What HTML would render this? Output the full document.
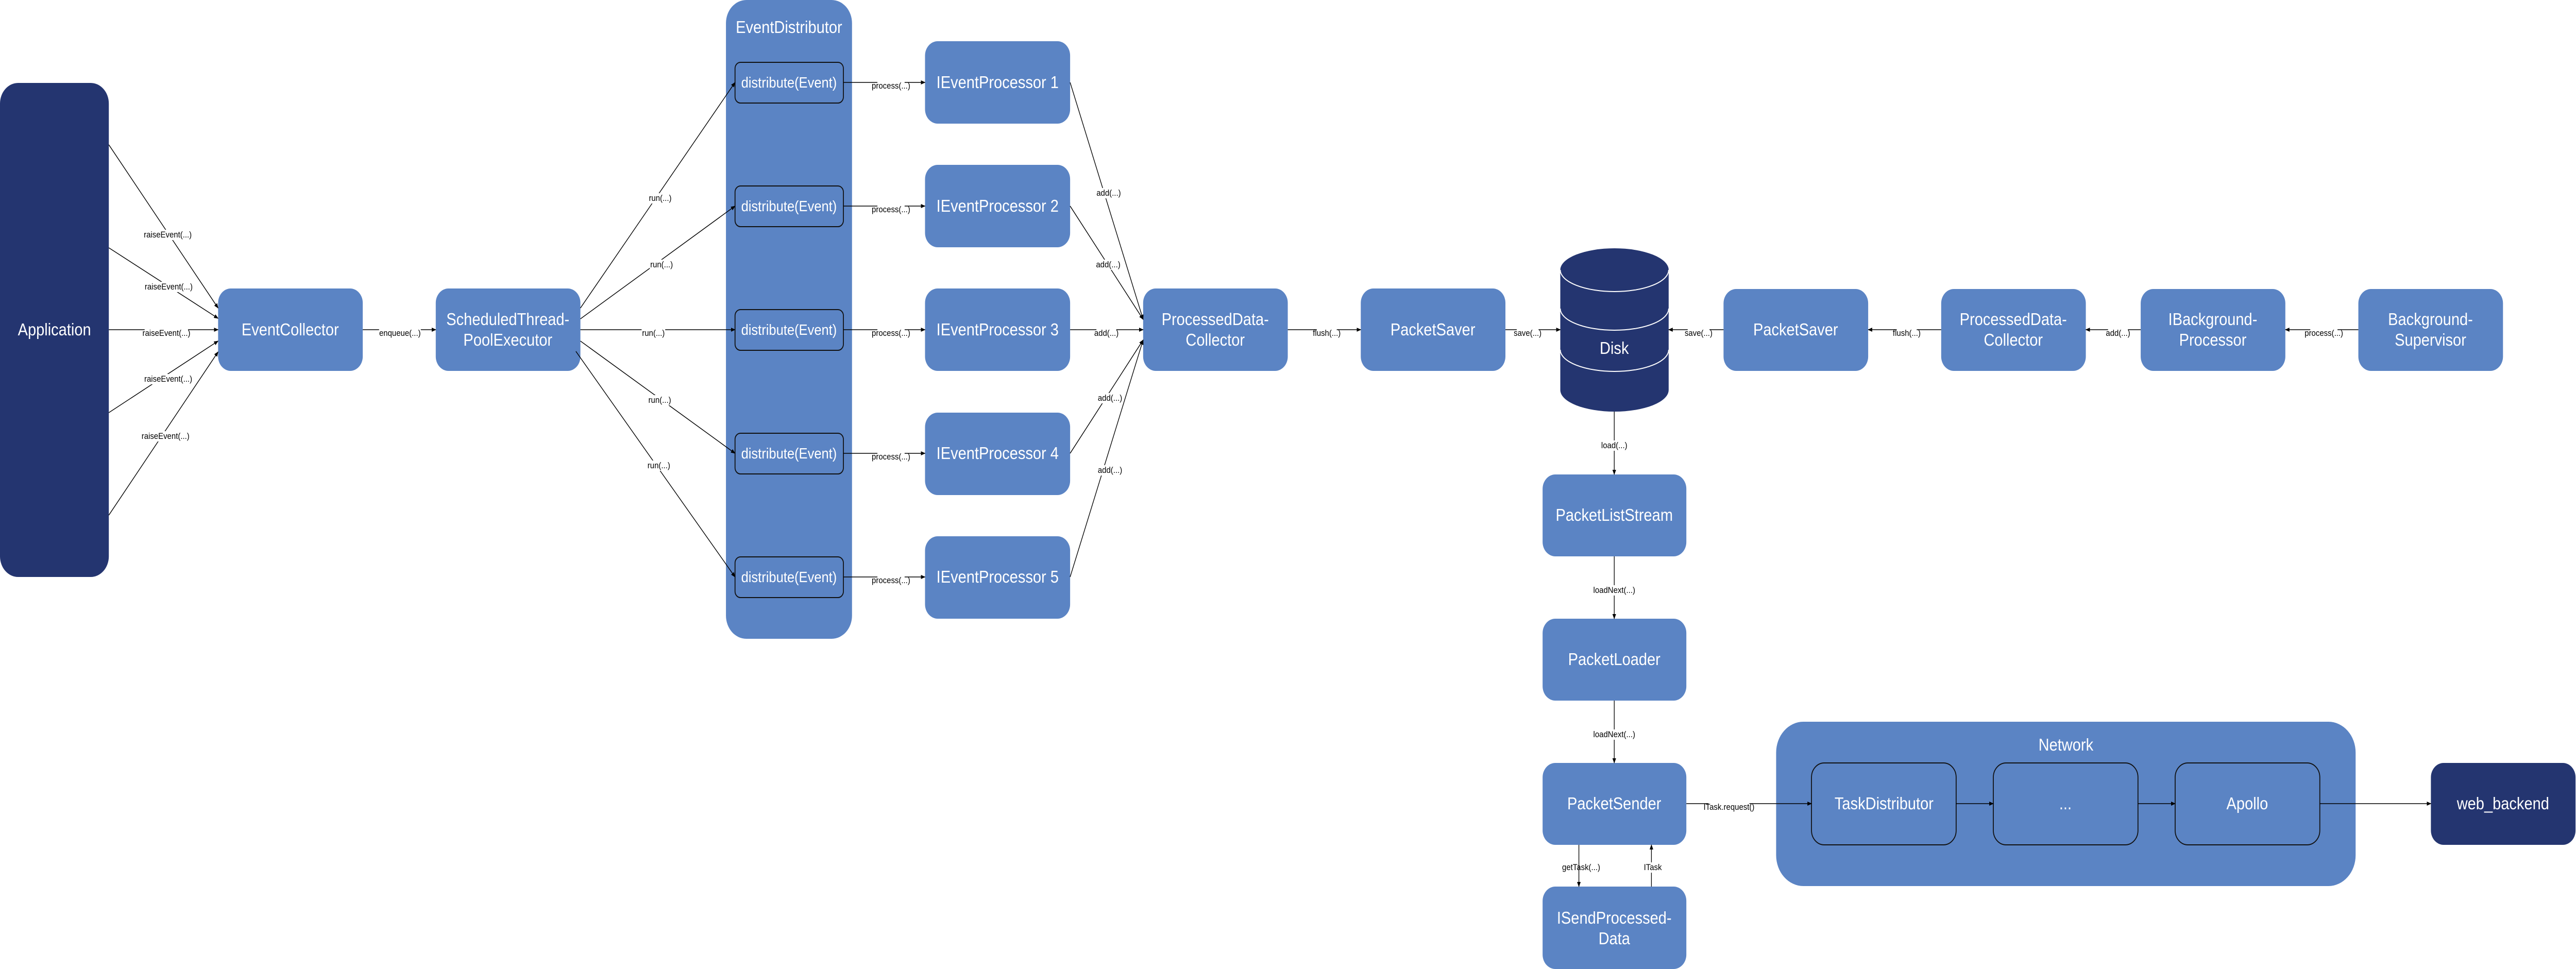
<!DOCTYPE html>
<html><head><meta charset="utf-8"><style>
html,body{margin:0;padding:0;background:#fff;width:100%;height:100%;overflow:hidden;}
svg{display:block;width:100vw;height:100vh;}
text{font-family:"Liberation Sans Narrow","Liberation Sans",sans-serif;}
.n{fill:#5b84c4;}
.d{fill:#243570;}
.t{fill:#fff;font-size:33px;text-anchor:middle;dominant-baseline:central;}
.s{font-size:29px;}
.l{fill:#000;font-size:17px;text-anchor:middle;dominant-baseline:central;}
.e{stroke:#000;stroke-width:1.5;fill:none;marker-end:url(#a);}
.ib{fill:#5b84c4;stroke:#111;stroke-width:2;}
</style></head><body>
<svg viewBox="0 0 5681 1881" preserveAspectRatio="none" xmlns="http://www.w3.org/2000/svg">
<defs><marker id="a" markerWidth="10" markerHeight="10" refX="9" refY="5" orient="auto" markerUnits="userSpaceOnUse"><path d="M0,1 L10,5 L0,9 z" fill="#000"/></marker></defs>

<rect class="d" x="0" y="161" width="240" height="959" rx="40"/>
<text class="t" x="120" y="640">Application</text>

<rect class="n" x="481" y="560" width="319" height="160" rx="28"/>
<text class="t" x="640" y="640">EventCollector</text>
<rect class="n" x="961" y="560" width="319" height="160" rx="28"/>
<text class="t" x="1120" y="620">ScheduledThread-</text>
<text class="t" x="1120" y="660">PoolExecutor</text>

<rect class="n" x="1601" y="0" width="278" height="1240" rx="45"/>
<text class="t" x="1740" y="53">EventDistributor</text>
<g>
<rect class="ib" x="1621" y="121" width="239" height="79" rx="12"/><text class="t s" x="1740" y="160">distribute(Event)</text>
<rect class="ib" x="1621" y="361" width="239" height="79" rx="12"/><text class="t s" x="1740" y="400">distribute(Event)</text>
<rect class="ib" x="1621" y="601" width="239" height="79" rx="12"/><text class="t s" x="1740" y="640">distribute(Event)</text>
<rect class="ib" x="1621" y="841" width="239" height="79" rx="12"/><text class="t s" x="1740" y="880">distribute(Event)</text>
<rect class="ib" x="1621" y="1081" width="239" height="79" rx="12"/><text class="t s" x="1740" y="1120">distribute(Event)</text>
</g>

<rect class="n" x="2040" y="80" width="320" height="160" rx="28"/><text class="t" x="2200" y="160">IEventProcessor 1</text>
<rect class="n" x="2040" y="320" width="320" height="160" rx="28"/><text class="t" x="2200" y="400">IEventProcessor 2</text>
<rect class="n" x="2040" y="560" width="320" height="160" rx="28"/><text class="t" x="2200" y="640">IEventProcessor 3</text>
<rect class="n" x="2040" y="801" width="320" height="160" rx="28"/><text class="t" x="2200" y="880">IEventProcessor 4</text>
<rect class="n" x="2040" y="1041" width="320" height="160" rx="28"/><text class="t" x="2200" y="1120">IEventProcessor 5</text>

<rect class="n" x="2521" y="560" width="319" height="160" rx="28"/>
<text class="t" x="2680" y="620">ProcessedData-</text><text class="t" x="2680" y="660">Collector</text>
<rect class="n" x="3001" y="560" width="319" height="160" rx="28"/>
<text class="t" x="3160" y="640">PacketSaver</text>

<path class="d" d="M3441,524 A119.5,42 0 0 1 3680,524 L3680,757 A119.5,42 0 0 1 3441,757 Z"/>
<path d="M3441,524 A119.5,42 0 0 0 3680,524" stroke="#fff" stroke-width="2" fill="none"/>
<path d="M3441,599 A119.5,42 0 0 0 3680,599" stroke="#fff" stroke-width="2" fill="none"/>
<path d="M3441,679 A119.5,42 0 0 0 3680,679" stroke="#fff" stroke-width="2" fill="none"/>
<text class="t" x="3560" y="676">Disk</text>

<rect class="n" x="3801" y="561" width="319" height="159" rx="28"/><text class="t" x="3960" y="640">PacketSaver</text>
<rect class="n" x="4281" y="561" width="319" height="159" rx="28"/><text class="t" x="4440" y="620">ProcessedData-</text><text class="t" x="4440" y="660">Collector</text>
<rect class="n" x="4721" y="561" width="319" height="159" rx="28"/><text class="t" x="4880" y="620">IBackground-</text><text class="t" x="4880" y="660">Processor</text>
<rect class="n" x="5201" y="561" width="319" height="159" rx="28"/><text class="t" x="5360" y="620">Background-</text><text class="t" x="5360" y="660">Supervisor</text>

<rect class="n" x="3402" y="921" width="317" height="159" rx="28"/><text class="t" x="3560" y="1000">PacketListStream</text>
<rect class="n" x="3402" y="1201" width="317" height="159" rx="28"/><text class="t" x="3560" y="1280">PacketLoader</text>
<rect class="n" x="3402" y="1481" width="317" height="159" rx="28"/><text class="t" x="3560" y="1560">PacketSender</text>
<rect class="n" x="3402" y="1721" width="317" height="160" rx="28"/><text class="t" x="3560" y="1782">ISendProcessed-</text><text class="t" x="3560" y="1822">Data</text>

<rect class="n" x="3917" y="1401" width="1278" height="319" rx="60"/>
<text class="t" x="4556" y="1446">Network</text>
<rect class="ib" x="3995" y="1481" width="319" height="159" rx="28"/><text class="t" x="4155" y="1560">TaskDistributor</text>
<rect class="ib" x="4396" y="1481" width="319" height="159" rx="28"/><text class="t" x="4555" y="1560">...</text>
<rect class="ib" x="4797" y="1481" width="319" height="159" rx="28"/><text class="t" x="4956" y="1560">Apollo</text>

<rect class="d" x="5361" y="1481" width="319" height="159" rx="28"/><text class="t" x="5520" y="1560">web_backend</text>

<line class="e" x1="240" y1="281" x2="481" y2="598"/>
<line class="e" x1="240" y1="481" x2="481" y2="618"/>
<line class="e" x1="240" y1="640" x2="481" y2="640"/>
<line class="e" x1="240" y1="801" x2="481" y2="662"/>
<line class="e" x1="240" y1="1000" x2="481" y2="683"/>
<line class="e" x1="800" y1="640" x2="961" y2="640"/>
<line class="e" x1="1280" y1="598" x2="1621" y2="160"/>
<line class="e" x1="1280" y1="619" x2="1621" y2="400"/>
<line class="e" x1="1280" y1="640" x2="1621" y2="640"/>
<line class="e" x1="1280" y1="662" x2="1621" y2="880"/>
<line class="e" x1="1270" y1="682" x2="1621" y2="1120"/>
<line class="e" x1="1860" y1="160" x2="2040" y2="160"/>
<line class="e" x1="1860" y1="400" x2="2040" y2="400"/>
<line class="e" x1="1860" y1="640" x2="2040" y2="640"/>
<line class="e" x1="1860" y1="880" x2="2040" y2="880"/>
<line class="e" x1="1860" y1="1120" x2="2040" y2="1120"/>
<line class="e" x1="2360" y1="160" x2="2521" y2="620"/>
<line class="e" x1="2360" y1="400" x2="2521" y2="620"/>
<line class="e" x1="2360" y1="640" x2="2521" y2="640"/>
<line class="e" x1="2360" y1="880" x2="2521" y2="660"/>
<line class="e" x1="2360" y1="1120" x2="2521" y2="660"/>
<line class="e" x1="2840" y1="640" x2="3001" y2="640"/>
<line class="e" x1="3320" y1="640" x2="3441" y2="640"/>
<line class="e" x1="3801" y1="640" x2="3680" y2="640"/>
<line class="e" x1="4281" y1="640" x2="4120" y2="640"/>
<line class="e" x1="4721" y1="640" x2="4600" y2="640"/>
<line class="e" x1="5201" y1="640" x2="5040" y2="640"/>
<line class="e" x1="3560" y1="799" x2="3560" y2="921"/>
<line class="e" x1="3560" y1="1080" x2="3560" y2="1201"/>
<line class="e" x1="3560" y1="1360" x2="3560" y2="1481"/>
<line class="e" x1="3719" y1="1560" x2="3995" y2="1560"/>
<line class="e" x1="4314" y1="1560" x2="4396" y2="1560"/>
<line class="e" x1="4715" y1="1560" x2="4797" y2="1560"/>
<line class="e" x1="5116" y1="1560" x2="5361" y2="1560"/>
<line class="e" x1="3482" y1="1640" x2="3482" y2="1721"/>
<line class="e" x1="3642" y1="1721" x2="3642" y2="1640"/>

<g>
<rect fill="#fff" x="322" y="446" width="96" height="20"/><text class="l" x="370" y="456">raiseEvent(...)</text>
<rect fill="#fff" x="324" y="547" width="96" height="20"/><text class="l" x="372" y="557">raiseEvent(...)</text>
<rect fill="#fff" x="319" y="637" width="96" height="20"/><text class="l" x="367" y="647">raiseEvent(...)</text>
<rect fill="#fff" x="323" y="726" width="96" height="20"/><text class="l" x="371" y="736">raiseEvent(...)</text>
<rect fill="#fff" x="317" y="837" width="96" height="20"/><text class="l" x="365" y="847">raiseEvent(...)</text>
<rect fill="#fff" x="836" y="637" width="92" height="20"/><text class="l" x="882" y="647">enqueue(...)</text>
<rect fill="#fff" x="1430" y="375" width="52" height="20"/><text class="l" x="1456" y="385">run(...)</text>
<rect fill="#fff" x="1433" y="504" width="52" height="20"/><text class="l" x="1459" y="514">run(...)</text>
<rect fill="#fff" x="1415" y="637" width="52" height="20"/><text class="l" x="1441" y="647">run(...)</text>
<rect fill="#fff" x="1429" y="767" width="52" height="20"/><text class="l" x="1455" y="777">run(...)</text>
<rect fill="#fff" x="1427" y="894" width="52" height="20"/><text class="l" x="1453" y="904">run(...)</text>
<rect fill="#fff" x="1935" y="158" width="60" height="20"/><text class="l" x="1965" y="167">process(...)</text>
<rect fill="#fff" x="1935" y="398" width="60" height="20"/><text class="l" x="1965" y="407">process(...)</text>
<rect fill="#fff" x="1935" y="638" width="60" height="20"/><text class="l" x="1965" y="647">process(...)</text>
<rect fill="#fff" x="1935" y="878" width="60" height="20"/><text class="l" x="1965" y="887">process(...)</text>
<rect fill="#fff" x="1935" y="1118" width="60" height="20"/><text class="l" x="1965" y="1127">process(...)</text>
<rect fill="#fff" x="2423" y="365" width="44" height="20"/><text class="l" x="2445" y="375">add(...)</text>
<rect fill="#fff" x="2422" y="504" width="44" height="20"/><text class="l" x="2444" y="514">add(...)</text>
<rect fill="#fff" x="2418" y="637" width="44" height="20"/><text class="l" x="2440" y="647">add(...)</text>
<rect fill="#fff" x="2426" y="763" width="44" height="20"/><text class="l" x="2448" y="773">add(...)</text>
<rect fill="#fff" x="2426" y="903" width="44" height="20"/><text class="l" x="2448" y="913">add(...)</text>
<rect fill="#fff" x="2904" y="637" width="44" height="20"/><text class="l" x="2926" y="647">flush(...)</text>
<rect fill="#fff" x="3345" y="637" width="48" height="20"/><text class="l" x="3369" y="647">save(...)</text>
<rect fill="#fff" x="3722" y="637" width="48" height="20"/><text class="l" x="3746" y="647">save(...)</text>
<rect fill="#fff" x="4183" y="637" width="44" height="20"/><text class="l" x="4205" y="647">flush(...)</text>
<rect fill="#fff" x="4649" y="637" width="44" height="20"/><text class="l" x="4671" y="647">add(...)</text>
<rect fill="#fff" x="5095" y="637" width="60" height="20"/><text class="l" x="5125" y="647">process(...)</text>
<rect fill="#fff" x="3536" y="855" width="48" height="20"/><text class="l" x="3560" y="865">load(...)</text>
<rect fill="#fff" x="3527" y="1136" width="66" height="20"/><text class="l" x="3560" y="1146">loadNext(...)</text>
<rect fill="#fff" x="3527" y="1416" width="66" height="20"/><text class="l" x="3560" y="1426">loadNext(...)</text>
<rect fill="#fff" x="3768" y="1557" width="90" height="20"/><text class="l" x="3813" y="1567">ITask.request()</text>
<text class="l" x="3487" y="1684">getTask(...)</text>
<rect fill="#fff" x="3628" y="1674" width="28" height="20"/><text class="l" x="3645" y="1684">ITask</text>
</g>
</svg>
</body></html>
